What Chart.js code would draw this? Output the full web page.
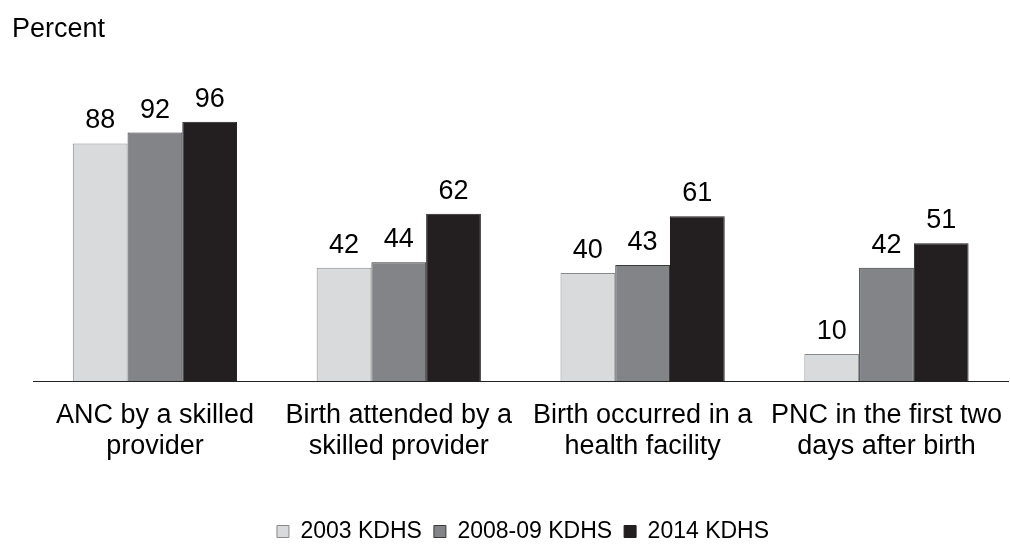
<!DOCTYPE html>
<html>
<head>
<meta charset="utf-8">
<script src="https://cdn.jsdelivr.net/npm/chart.js@4.4.0/dist/chart.umd.min.js"></script>
<style>
  html, body { margin: 0; padding: 0; background: #fff; overflow: hidden; }
  #wrap { width: 1013px; height: 544px; }
</style>
</head>
<body>
<div id="wrap"><canvas id="grafico"></canvas></div>
<script>
// Dados
const categorias = [
    ['ANC by a skilled', 'provider'],
    ['Birth attended by a', 'skilled provider'],
    ['Birth occurred in a', 'health facility'],
    ['PNC in the first two', 'days after birth']
];
const serie2003 = [88, 42, 40, 10];
const serie2008 = [92, 44, 43, 42];
const serie2014 = [96, 62, 61, 51];
const nomesSeries = ['2003 KDHS', '2008-09 KDHS', '2014 KDHS'];

const FONTE = "'Liberation Sans', Arial, sans-serif";

// Rótulos de valor acima das barras + texto "Percent"
const rotulosPlugin = {
    id: 'rotulos',
    afterDatasetsDraw(chart) {
        const ctx = chart.ctx;
        ctx.save();
        ctx.font = '27px ' + FONTE;
        ctx.fillStyle = '#000';
        ctx.textAlign = 'center';
        ctx.textBaseline = 'alphabetic';
        chart.data.datasets.forEach((ds, i) => {
            chart.getDatasetMeta(i).data.forEach((bar, j) => {
                ctx.fillText(ds.data[j], bar.x, bar.y - 15);
            });
        });
        ctx.textAlign = 'left';
        ctx.fillText('Percent', 12, 37);
        ctx.restore();
    }
};

new Chart(document.getElementById('grafico').getContext('2d'), {
    type: 'bar',
    data: {
        labels: categorias,
        datasets: [
            { label: nomesSeries[0], data: serie2003, backgroundColor: '#d9dadc', borderColor: '#8a8a8a', borderWidth: 1 },
            { label: nomesSeries[1], data: serie2008, backgroundColor: '#838487', borderColor: '#3a3a3a', borderWidth: 1 },
            { label: nomesSeries[2], data: serie2014, backgroundColor: '#231f20', borderColor: '#231f20', borderWidth: 1 }
        ]
    },
    options: {
        responsive: true,
        maintainAspectRatio: false,
        animation: false,
        layout: { padding: { top: 111, left: 33, right: 0, bottom: -9 } },
        datasets: { bar: { categoryPercentage: 0.6735, barPercentage: 1.0 } },
        plugins: {
            title: { display: false },
            tooltip: { enabled: false },
            legend: {
                position: 'bottom',
                title: { display: true, text: '', padding: 10.2 },
                labels: {
                    boxWidth: 12,
                    boxHeight: 12,
                    padding: 12,
                    color: '#000',
                    font: { size: 23, family: FONTE }
                }
            }
        },
        scales: {
            y: { display: false, min: 0, max: 100 },
            x: {
                grid: { display: false },
                border: { display: true, color: '#222', width: 1 },
                ticks: {
                    color: '#000',
                    padding: 11,
                    maxRotation: 0,
                    autoSkip: false,
                    font: { size: 27, family: FONTE, lineHeight: 1.15 }
                }
            }
        }
    },
    plugins: [rotulosPlugin]
});
</script>
</body>
</html>
